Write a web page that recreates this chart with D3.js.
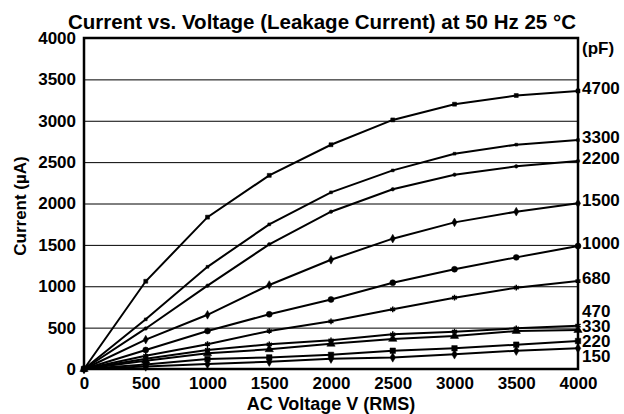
<!DOCTYPE html>
<html>
<head>
<meta charset="utf-8">
<script src="https://cdn.jsdelivr.net/npm/d3@7/dist/d3.min.js"></script>
<style>
  body { margin: 0; background: #fff; }
  svg text { font-family: "Liberation Sans", Arial, Helvetica, sans-serif; font-weight: bold; fill: #000; }
</style>
</head>
<body>
<svg width="624" height="414"></svg>
<script>
      // leakage current vs AC voltage, one line per capacitance (pF)
      const volts = [0, 500, 1000, 1500, 2000, 2500, 3000, 3500, 4000];
      const yTicks = [0, 500, 1000, 1500, 2000, 2500, 3000, 3500, 4000];
      const caps = ["4700", "3300", "2200", "1500", "1000", "680", "470", "330", "220", "150"];

      const i4700 = [0, 1060, 1835, 2340, 2710, 3010, 3200, 3305, 3360];
      const i3300 = [0, 600, 1235, 1748, 2135, 2400, 2602, 2711, 2767];
      const i2200 = [0, 490, 1007, 1507, 1901, 2172, 2348, 2449, 2514];
      const i1500 = [0, 355, 655, 1015, 1320, 1575, 1772, 1901, 2002];
      const i1000 = [0, 230, 459, 661, 840, 1043, 1205, 1349, 1486];
      const i680 = [0, 160, 300, 459, 576, 721, 862, 983, 1063];
      const i470 = [0, 125, 230, 298, 346, 419, 451, 491, 524];
      const i330 = [0, 100, 190, 238, 304, 363, 399, 459, 471];
      const i220 = [0, 55, 120, 140, 171, 221, 250, 294, 338];
      const i150 = [0, 30, 60, 88, 125, 140, 177, 221, 250];

      const currents = [i4700, i3300, i2200, i1500, i1000, i680, i470, i330, i220, i150];
      const shapes = [d3.symbolSquare, d3.symbolSquare, d3.symbolCircle, d3.symbolDiamond, d3.symbolCircle,
                      d3.symbolAsterisk, d3.symbolAsterisk, d3.symbolTriangle, d3.symbolSquare, d3.symbolDiamond];
      const sizes = [16, 8, 10, 22, 28, 22, 24, 30, 30, 26];

      const svg = d3.select("svg");
      const margin = { top: 38, right: 46, bottom: 45, left: 84 };
      const width = 624 - margin.left - margin.right;
      const height = 414 - margin.top - margin.bottom;

      const x = d3.scaleLinear().domain([0, 4000]).range([margin.left, margin.left + width]);
      const y = d3.scaleLinear().domain([0, 4000]).range([margin.top + height, margin.top]);

      // grid
      svg.append("g")
        .attr("transform", `translate(${margin.left},0)`)
        .call(d3.axisLeft(y).tickValues(yTicks.slice(1, -1)).tickSize(-width).tickFormat(""))
        .call(g => g.select(".domain").remove())
        .selectAll("line").attr("stroke", "#000").attr("stroke-width", 1);

      // tick labels
      svg.append("g")
        .attr("transform", `translate(${margin.left},0)`)
        .call(d3.axisLeft(y).tickValues(yTicks).tickSize(0).tickPadding(8).tickFormat(d3.format("d")))
        .call(g => g.select(".domain").remove())
        .selectAll("text").style("font-size", "17px");

      svg.append("g")
        .attr("transform", `translate(0,${margin.top + height})`)
        .call(d3.axisBottom(x).tickValues(volts).tickSize(0).tickPadding(8).tickFormat(d3.format("d")))
        .call(g => g.select(".domain").remove())
        .selectAll("text").style("font-size", "17px");

      const line = d3.line().x((d, i) => x(volts[i])).y(d => y(d));

      const series = caps.map((c, k) => ({ cap: c, values: currents[k], shape: shapes[k], size: sizes[k] }));

      const sg = svg.append("g").selectAll("g").data(series).enter().append("g");

      sg.append("path")
        .attr("d", d => line(d.values))
        .attr("fill", "none")
        .attr("stroke", "#000")
        .attr("stroke-width", 2);

      sg.selectAll("path.m")
        .data(d => d.values.map((v, i) => ({ v, i, shape: d.shape, size: d.size })))
        .enter()
        .append("path")
        .attr("class", "m")
        .attr("transform", d => `translate(${x(volts[d.i])},${y(d.v)})`)
        .attr("d", d => d3.symbol().type(d.shape).size(d.size)())
        .attr("fill", "#000")
        .attr("stroke", "#000")
        .attr("stroke-width", d => d.shape === d3.symbolAsterisk ? 1.5 : 0.5);

      // frame
      svg.append("rect")
        .attr("x", margin.left).attr("y", margin.top)
        .attr("width", width).attr("height", height)
        .attr("fill", "none").attr("stroke", "#000").attr("stroke-width", 2.5);

      // right-side labels, spread apart so they do not collide
      const labels = series.map(d => ({ cap: d.cap, y: y(d.values[d.values.length - 1]) - 3 }));
      const gap = 14.8;
      for (let it = 0; it < 200; it++) {
        for (let k = 1; k < labels.length; k++) {
          const a = labels[k - 1], b = labels[k];
          const over = gap - (b.y - a.y);
          if (over > 0) { a.y -= over / 2; b.y += over / 2; }
        }
      }
      svg.append("g").selectAll("text").data(labels).enter().append("text")
        .attr("x", x(4000) + 4)
        .attr("y", d => d.y)
        .attr("dy", "0.36em")
        .style("font-size", "17px")
        .text(d => d.cap);

      svg.append("text")
        .attr("x", x(4000) + 4).attr("y", 48).attr("dy", "0.36em")
        .style("font-size", "17px").text("(pF)");

      svg.append("text")
        .attr("x", 322).attr("y", 29)
        .attr("text-anchor", "middle")
        .style("font-size", "20.5px")
        .text("Current vs. Voltage (Leakage Current) at 50 Hz 25 °C");

      svg.append("text")
        .attr("x", 331).attr("y", 410)
        .attr("text-anchor", "middle")
        .style("font-size", "18px")
        .text("AC Voltage V (RMS)");

      svg.append("text")
        .attr("transform", "translate(26,206) rotate(-90)")
        .attr("text-anchor", "middle")
        .style("font-size", "17px")
        .text("Current (µA)");
</script>
</body>
</html>
